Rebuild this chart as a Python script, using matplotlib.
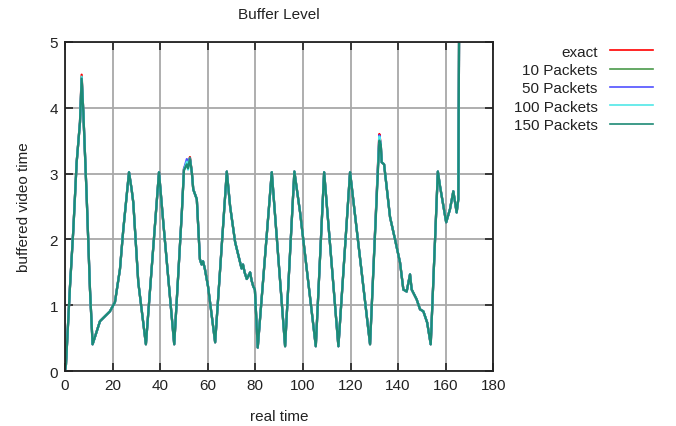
import matplotlib
matplotlib.use("Agg")
import matplotlib.pyplot as plt

plt.rcParams['font.family'] = ['Liberation Sans', 'DejaVu Sans']

# time axis (seconds)
real_time = [0.0, 0.4, 2.1, 3.5, 4.9, 6.3, 7.0, 7.7, 9.1, 10.5, 11.6,
             14.7, 18.9, 21.0, 23.1, 24.5, 26.9, 28.0, 28.7, 30.8, 34.0,
             39.5, 41.3, 45.9, 49.1, 50.0, 51.2, 51.7, 52.5, 53.3, 53.9,
             55.4, 56.7, 57.4, 58.0, 58.8, 60.1, 63.1, 68.0, 69.4, 71.5, 73.6,
             74.2, 74.8, 75.5, 76.4, 77.8, 78.4, 79.1, 79.8, 81.0, 86.9, 92.5, 96.4, 98.8,
             105.4, 108.9, 114.9, 119.8, 128.2, 132.1, 132.7, 133.1, 134.1,
             136.6, 138.7, 140.8, 142.2, 143.6, 145.0, 145.7, 147.8, 149.2,
             150.6, 152.2, 153.7, 156.7, 157.6, 160.2, 161.8, 163.2, 164.6,
             165.3, 165.6, 166.5]

buffer_exact = [0.0, 0.1, 1.29, 2.15, 3.17, 3.78, 4.50, 3.93, 2.66, 1.24, 0.41,
                0.76, 0.91, 1.05, 1.55, 2.15, 3.02, 2.76, 2.56, 1.35, 0.41,
                3.02, 2.26, 0.41, 2.41, 3.07, 3.17, 3.10, 3.25, 3.02, 2.76,
                2.61, 1.70, 1.62, 1.67, 1.55, 1.29, 0.44, 3.03, 2.50, 1.96, 1.65,
                1.56, 1.62, 1.50, 1.40, 1.50, 1.38, 1.29, 1.24, 0.36, 3.02, 0.38, 3.03, 2.41,
                0.38, 3.02, 0.38, 3.02, 0.41, 3.60, 3.44, 3.17, 3.14,
                2.34, 2.00, 1.65, 1.24, 1.21, 1.47, 1.24, 1.09, 0.94,
                0.91, 0.74, 0.41, 3.03, 2.81, 2.26, 2.46, 2.73, 2.41,
                2.61, 5.0, 6.0]

buffer_10 = [0.0, 0.1, 1.29, 2.15, 3.17, 3.78, 4.46, 3.93, 2.66, 1.24, 0.41,
             0.76, 0.91, 1.05, 1.55, 2.15, 3.02, 2.76, 2.56, 1.35, 0.41,
             3.02, 2.26, 0.41, 2.41, 3.07, 3.15, 3.10, 3.24, 3.02, 2.76,
             2.61, 1.70, 1.62, 1.67, 1.55, 1.29, 0.44, 3.03, 2.50, 1.96, 1.65,
             1.56, 1.62, 1.50, 1.40, 1.50, 1.38, 1.29, 1.24, 0.36, 3.02, 0.38, 3.03, 2.41,
             0.38, 3.02, 0.38, 3.02, 0.41, 3.55, 3.44, 3.17, 3.14,
             2.34, 2.00, 1.65, 1.24, 1.21, 1.47, 1.24, 1.09, 0.94,
             0.91, 0.74, 0.41, 3.03, 2.81, 2.26, 2.46, 2.73, 2.41,
             2.61, 5.0, 6.0]

buffer_50 = [0.0, 0.1, 1.29, 2.15, 3.17, 3.78, 4.45, 3.93, 2.66, 1.24, 0.41,
             0.76, 0.91, 1.05, 1.55, 2.15, 3.02, 2.76, 2.56, 1.35, 0.41,
             3.02, 2.26, 0.41, 2.41, 3.07, 3.22, 3.12, 3.23, 3.02, 2.76,
             2.61, 1.70, 1.62, 1.67, 1.55, 1.29, 0.44, 3.03, 2.50, 1.96, 1.65,
             1.56, 1.62, 1.50, 1.40, 1.50, 1.38, 1.29, 1.24, 0.36, 3.02, 0.38, 3.03, 2.41,
             0.38, 3.02, 0.38, 3.02, 0.41, 3.58, 3.44, 3.17, 3.14,
             2.34, 2.00, 1.65, 1.24, 1.21, 1.47, 1.24, 1.09, 0.94,
             0.91, 0.74, 0.41, 3.03, 2.81, 2.26, 2.46, 2.73, 2.41,
             2.61, 5.0, 6.0]

buffer_100 = [0.0, 0.1, 1.29, 2.15, 3.17, 3.78, 4.47, 3.93, 2.66, 1.24, 0.41,
              0.76, 0.91, 1.05, 1.55, 2.15, 3.02, 2.76, 2.56, 1.35, 0.41,
              3.02, 2.26, 0.41, 2.41, 3.05, 3.18, 3.06, 3.22, 3.02, 2.76,
              2.61, 1.70, 1.62, 1.67, 1.55, 1.29, 0.44, 3.03, 2.50, 1.96, 1.65,
              1.56, 1.62, 1.50, 1.40, 1.50, 1.38, 1.29, 1.24, 0.36, 3.02, 0.38, 3.03, 2.41,
              0.38, 3.02, 0.38, 3.02, 0.41, 3.56, 3.44, 3.17, 3.14,
              2.34, 2.00, 1.65, 1.24, 1.21, 1.47, 1.24, 1.09, 0.94,
              0.91, 0.74, 0.41, 3.03, 2.81, 2.26, 2.46, 2.73, 2.41,
              2.61, 5.0, 6.0]

buffer_150 = [0.0, 0.1, 1.29, 2.15, 3.17, 3.78, 4.44, 3.93, 2.66, 1.24, 0.41,
              0.76, 0.91, 1.05, 1.55, 2.15, 3.02, 2.76, 2.56, 1.35, 0.41,
              3.02, 2.26, 0.41, 2.41, 3.05, 3.14, 3.08, 3.22, 3.02, 2.76,
              2.61, 1.70, 1.62, 1.67, 1.55, 1.29, 0.44, 3.03, 2.50, 1.96, 1.65,
              1.56, 1.62, 1.50, 1.40, 1.50, 1.38, 1.29, 1.24, 0.36, 3.02, 0.38, 3.03, 2.41,
              0.38, 3.02, 0.38, 3.02, 0.41, 3.50, 3.44, 3.17, 3.14,
              2.34, 2.00, 1.65, 1.24, 1.21, 1.47, 1.24, 1.09, 0.94,
              0.91, 0.74, 0.41, 3.03, 2.81, 2.26, 2.46, 2.73, 2.41,
              2.61, 5.0, 6.0]

series_labels = ["exact", "10 Packets", "50 Packets", "100 Packets", "150 Packets"]
series_values = [buffer_exact, buffer_10, buffer_50, buffer_100, buffer_150]
series_colors = ["#ff0000", "#4a9a4a", "#5050ff", "#50e8e8", "#1e8a76"]

x_ticks = [0, 20, 40, 60, 80, 100, 120, 140, 160, 180]
y_ticks = [0, 1, 2, 3, 4, 5]

fig = plt.figure(figsize=(6.76, 4.27), dpi=100)
ax = fig.add_axes([65/676, 1 - 372.3/427, (493.3-65)/676, (372.3-42.7)/427])

for lab, vals, col in zip(series_labels, series_values, series_colors):
    ax.plot(real_time, vals, color=col, lw=1.6, label=lab, solid_joinstyle='round')

ax.set_xlim(0, 180)
ax.set_ylim(0, 5)
ax.set_xticks(x_ticks)
ax.set_yticks(y_ticks)
ax.grid(True, color="#a8a8a8", lw=1.3)
ax.set_axisbelow(True)
ax.tick_params(direction='in', length=6, width=1.2, top=True, right=True,
               labelsize=11, colors='#222222', pad=5)
for sp in ax.spines.values():
    sp.set_linewidth(1.3)
    sp.set_color('#222222')

ax.set_title("Buffer Level", fontsize=11, pad=17, color='#222222')
ax.set_xlabel("real time", fontsize=11, labelpad=12, color='#222222')
ax.set_ylabel("buffered video time", fontsize=11, labelpad=13, color='#222222')

ax_w = 493.3 - 65
ax_h = 372.3 - 42.7
leg = ax.legend(loc='upper right',
                bbox_to_anchor=((667 - 65) / ax_w, (372.3 - 32) / ax_h),
                frameon=False, fontsize=11, markerfirst=False,
                handlelength=2.8, labelspacing=0.28, handletextpad=0.85,
                borderpad=0.4)
for t in leg.get_texts():
    t.set_ha('right')
    t.set_color('#222222')
leg._legend_box.align = "right"
for line in leg.get_lines():
    line.set_linewidth(1.2)

fig.savefig("out.png", dpi=100)
